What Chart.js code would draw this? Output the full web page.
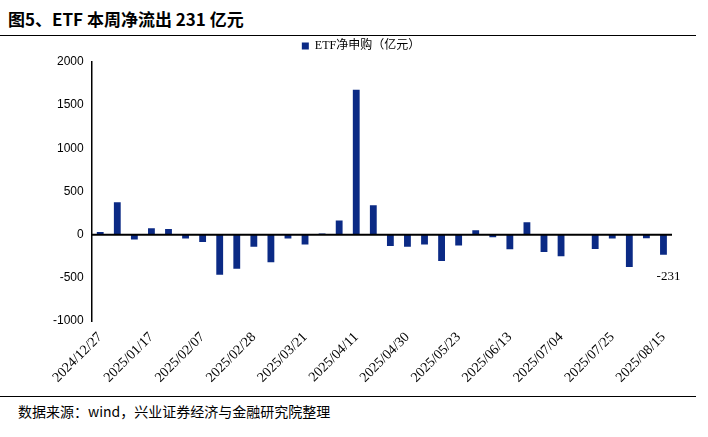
<!DOCTYPE html>
<html><head><meta charset="utf-8">
<script src="https://cdn.jsdelivr.net/npm/chart.js@4"></script>
<style>
body{margin:0;width:708px;height:437px;background:#fff;font-family:"Noto Sans CJK SC",sans-serif;position:relative;overflow:hidden}
#title{position:absolute;left:8px;top:6px;font-size:17px;font-weight:bold;color:#000}
#l1{position:absolute;left:0;top:35px;width:696px;border-top:1.5px solid #000}
#l2{position:absolute;left:0;top:396px;width:696px;border-top:1.5px solid #000}
#foot{position:absolute;left:18px;top:401px;font-size:14px;color:#000}
#wrap{position:absolute;left:0;top:38px;width:708px;height:356px}
</style></head><body>
<div id="title">图5、ETF 本周净流出 231 亿元</div>
<div id="l1"></div>
<div id="wrap"><canvas id="c"></canvas></div>
<div id="l2"></div>
<div id="foot">数据来源：wind，兴业证券经济与金融研究院整理</div>
<script>
const categories=["2024/12/27","2025/01/03","2025/01/10","2025/01/17","2025/01/24","2025/01/27","2025/02/07","2025/02/14","2025/02/21","2025/02/28","2025/03/07","2025/03/14","2025/03/21","2025/03/28","2025/04/03","2025/04/11","2025/04/18","2025/04/25","2025/04/30","2025/05/09","2025/05/16","2025/05/23","2025/05/30","2025/06/06","2025/06/13","2025/06/20","2025/06/27","2025/07/04","2025/07/11","2025/07/18","2025/07/25","2025/08/01","2025/08/08","2025/08/15"];
const netFlow=[30,375,-55,75,65,-45,-85,-465,-395,-140,-320,-45,-115,15,165,1680,340,-130,-140,-115,-305,-125,50,-30,-170,145,-200,-250,0,-165,-45,-375,-40,-231];
const yTicks=[-1000,-500,0,500,1000,1500,2000];
const seriesName="ETF净申购（亿元）";
const lastLabel={id:'ll',afterDatasetsDraw(ch){const m=ch.getDatasetMeta(0).data;const b=m[m.length-1];const c=ch.ctx;c.save();c.font='13px "Liberation Serif"';c.fillStyle='#000';c.textAlign='center';c.fillText(String(netFlow[netFlow.length-1]),b.x+5,b.y+22);c.restore();}};
const zeroLine={id:'zl',afterDatasetsDraw(ch){const y=ch.scales.y.getPixelForValue(0);const c=ch.ctx;c.save();c.strokeStyle='#000';c.lineWidth=2;c.beginPath();c.moveTo(ch.chartArea.left,y);c.lineTo(ch.chartArea.right,y);c.stroke();c.restore();}};
new Chart(document.getElementById('c'),{type:'bar',
data:{labels:categories,datasets:[{label:seriesName,data:netFlow,backgroundColor:'#0b2a85',categoryPercentage:0.8,barPercentage:0.5}]},
options:{responsive:true,maintainAspectRatio:false,animation:false,
layout:{padding:{left:50,right:36,top:0,bottom:0}},
plugins:{legend:{position:'top',labels:{boxWidth:7,boxHeight:7,font:{size:12,family:'"Liberation Serif","Noto Sans CJK SC"'},color:'#000',padding:2}},tooltip:{enabled:false}},
scales:{x:{grid:{display:false,drawTicks:false},border:{display:false},ticks:{autoSkip:false,maxRotation:45,minRotation:45,padding:8,color:'#000',font:{size:14,family:'"Liberation Serif"'},callback:(v,i)=>i%3===0?categories[i]:''}},
y:{min:-1000,max:2000,afterBuildTicks:a=>{a.ticks=yTicks.map(v=>({value:v}))},grid:{display:false,drawTicks:true,tickLength:5,tickColor:'#000'},border:{display:true,color:'#000',width:1.5},ticks:{color:'#000',font:{size:12,family:'"Liberation Sans"'},callback:v=>String(v)}}}},
plugins:[zeroLine,lastLabel]});
</script></body></html>
